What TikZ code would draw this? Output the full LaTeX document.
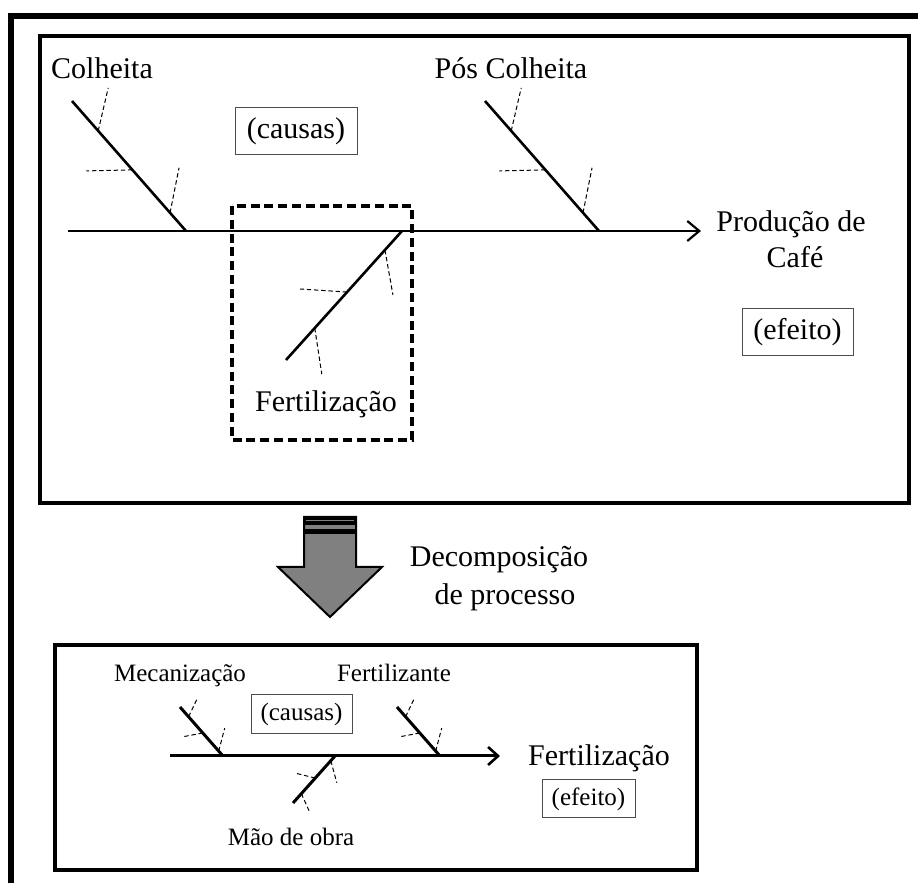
\documentclass[tikz,border=0pt]{standalone}
\usepackage{fontspec}
\setmainfont{Liberation Serif}
\usetikzlibrary{arrows.meta,calc}
\definecolor{arrowgray}{HTML}{808080}
\begin{document}
\begin{tikzpicture}[x=0.5pt,y=-0.5pt,
  lbl/.style={inner sep=0pt,font=\fontsize{15}{18}\selectfont},
  lblsm/.style={inner sep=0pt,font=\fontsize{12.5}{15}\selectfont},
  tagbox/.style={draw=black!70,line width=0.5pt,inner sep=0pt},
  spine/.style={line width=1.1pt,-{Straight Barb[length=6pt,width=10pt,line width=1.1pt]}},
  spinesm/.style={line width=1.5pt,-{Straight Barb[length=5pt,width=9pt,line width=1.3pt]}},
  bone/.style={line width=1.3pt},
  bonesm/.style={line width=1.5pt},
  subbone/.style={line width=0.5pt,dash pattern=on 2.2pt off 1.4pt},
  outerframe/.style={line width=2.6pt},
  panel/.style={line width=1.6pt},
  zoombox/.style={line width=1.8pt,dash pattern=on 4.5pt off 2.4pt}
]
\useasboundingbox (0,0) rectangle (918,883);
\fill[white] (0,0) rectangle (918,883);
\clip (0,0) rectangle (918,883);

% outer frame (only top and left edges fall inside the page)
\coordinate (ofA) at (11,900);
\coordinate (ofB) at (11,16);
\coordinate (ofC) at (940,16);
\draw[outerframe] (ofA) -- (ofB) -- (ofC);

% ---------------- upper panel: coffee production ----------------
\draw[panel] (40,36) rectangle (909,503);

\coordinate (sA) at (68,231);
\coordinate (eA) at (701,231);
\draw[spine] (sA) -- (eA);

% Colheita bone
\coordinate (colA) at (72,101);
\coordinate (colB) at (186,231);
\draw[bone] (colA) -- (colB);
\draw[subbone] ($(colA)!0.23!(colB)$) -- ++(10,-43);
\draw[subbone] ($(colA)!0.53!(colB)$) -- ++(-46,1);
\draw[subbone] ($(colA)!0.86!(colB)$) -- ++(9,-45);
\node[lbl,anchor=base] (colheita) at (102,79) {Colheita};

% Pós Colheita bone
\coordinate (posA) at (485,101);
\coordinate (posB) at (599,231);
\draw[bone] (posA) -- (posB);
\draw[subbone] ($(posA)!0.23!(posB)$) -- ++(10,-43);
\draw[subbone] ($(posA)!0.53!(posB)$) -- ++(-46,1);
\draw[subbone] ($(posA)!0.86!(posB)$) -- ++(9,-45);
\node[lbl,anchor=base] (poscolheita) at (511,79) {Pós Colheita};

% Fertilização bone
\coordinate (ferA) at (402,231);
\coordinate (ferB) at (286,360);
\draw[bone] (ferA) -- (ferB);
\draw[subbone] ($(ferA)!0.147!(ferB)$) -- ++(8,45);
\draw[subbone] ($(ferA)!0.473!(ferB)$) -- ++(-47,-3);
\draw[subbone] ($(ferA)!0.752!(ferB)$) -- ++(7,46);
\node[lbl,anchor=base] (fertA) at (326,412) {Fertilização};

% highlighted sub-process
\draw[zoombox] (232,206) rectangle (412,440);

% causes / effect tags
\node[lbl,tagbox,minimum width=61pt,minimum height=23.5pt] (causasA) at (296,131.5) {(causas)};
\node[lbl,tagbox,minimum width=55.5pt,minimum height=23.5pt] (efeitoA) at (797.5,332.5) {(efeito)};
\node[lbl,anchor=base] (prodA) at (791,232) {Produção de};
\node[lbl,anchor=base] (prodB) at (795,268) {Café};

% ---------------- decomposition arrow ----------------
\filldraw[fill=arrowgray,draw=black,line width=1pt]
  (304,517) -- (356,517) -- (356,567) -- (382,567) -- (330,617)
  -- (278,567) -- (304,567) -- cycle;
\fill[black] (304,517) rectangle (356,525);
\draw[arrowgray,line width=0.5pt] (306,520.5) -- (354,520.5);
\fill[black] (304,529.5) rectangle (356,534.5);
\node[lbl,anchor=base] (decA) at (499,567) {Decomposição};
\node[lbl,anchor=base] (decB) at (505,604) {de processo};

% ---------------- lower panel: fertilization ----------------
\draw[panel] (55,645) rectangle (697,870);

\coordinate (sB) at (170,756);
\coordinate (eB) at (500,756);
\draw[spinesm] (sB) -- (eB);

% Mecanização bone
\coordinate (mecA) at (180,707);
\coordinate (mecB) at (223,756);
\draw[bonesm] (mecA) -- (mecB);
\draw[subbone] ($(mecA)!0.2!(mecB)$) -- ++(9,-19);
\draw[subbone] ($(mecA)!0.53!(mecB)$) -- ++(-21,4);
\draw[subbone] ($(mecA)!0.9!(mecB)$) -- ++(6,-23);
\node[lblsm,anchor=base] (mecan) at (180,682) {Mecanização};

% Fertilizante bone
\coordinate (fzA) at (397,707);
\coordinate (fzB) at (440,756);
\draw[bonesm] (fzA) -- (fzB);
\draw[subbone] ($(fzA)!0.2!(fzB)$) -- ++(9,-19);
\draw[subbone] ($(fzA)!0.53!(fzB)$) -- ++(-21,4);
\draw[subbone] ($(fzA)!0.9!(fzB)$) -- ++(6,-23);
\node[lblsm,anchor=base] (fertz) at (394,682) {Fertilizante};

% Mão de obra bone
\coordinate (moA) at (335,756);
\coordinate (moB) at (293,803);
\draw[bonesm] (moA) -- (moB);
\draw[subbone] ($(moA)!0.1!(moB)$) -- ++(6,22);
\draw[subbone] ($(moA)!0.47!(moB)$) -- ++(-20,-5);
\draw[subbone] ($(moA)!0.8!(moB)$) -- ++(8,18);
\node[lblsm,anchor=base] (maoobra) at (291,845) {Mão de obra};

\node[lblsm,tagbox,minimum width=50.5pt,minimum height=19.5pt] (causasB) at (301.5,714.5) {(causas)};
\node[lblsm,tagbox,minimum width=46.5pt,minimum height=19pt] (efeitoB) at (588.5,799) {(efeito)};
\node[lbl,anchor=base] (fertB) at (599,765) {Fertilização};
\end{tikzpicture}
\end{document}
